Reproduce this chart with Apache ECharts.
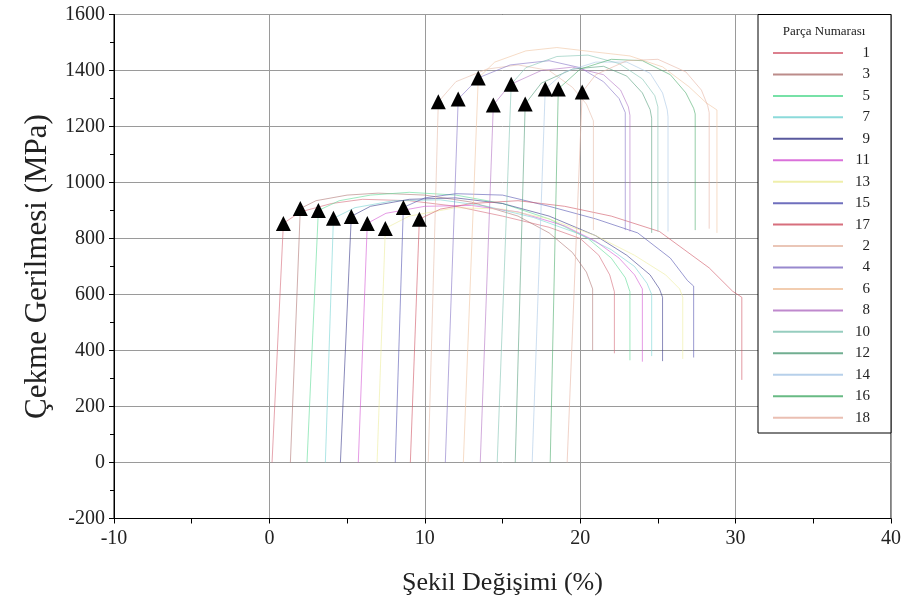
<!DOCTYPE html>
<html>
<head>
<meta charset="utf-8">
<script src="https://cdn.jsdelivr.net/npm/echarts@6/dist/echarts.min.js"></script>
<style>
html,body{margin:0;padding:0;background:#fff;}
#chart{width:907px;height:610px;}
</style>
</head>
<body>
<div id="chart"></div>
<script>
// ---- data ----
var xTicks = [-10, 0, 10, 20, 30, 40];
var yTicks = [-200, 0, 200, 400, 600, 800, 1000, 1200, 1400, 1600];
var legendTitle = 'Parça Numarası';
var pieceNames = ['1','3','5','7','9','11','13','15','17','2','4','6','8','10','12','14','16','18'];

// stress–strain curves [strain %, stress MPa]
var p1  = [[0.17,0],[0.90,854],[2,895],[4,925],[6,940],[9,935],[12,915],[15,880],[18,840],[20,800],[21.2,740],[21.9,670],[22.2,610],[22.2,390]];
var p3  = [[1.35,0],[1.99,907],[3,935],[5,955],[7,962],[10,955],[13,930],[16,880],[18,820],[19.5,750],[20.4,680],[20.8,620],[20.8,400]];
var p5  = [[2.42,0],[3.15,900],[4.5,935],[6.5,955],[9,965],[12,955],[15,925],[18,870],[20.5,800],[22,730],[22.9,660],[23.2,610],[23.2,365]];
var p7  = [[3.6,0],[4.12,872],[5.5,910],[8,935],[11,938],[14,915],[17,875],[20,815],[22,760],[23.5,700],[24.3,640],[24.6,600],[24.6,380]];
var p9  = [[4.57,0],[5.27,879],[6.5,915],[9,940],[12,945],[15,925],[18,880],[21,810],[23,740],[24.5,670],[25.1,620],[25.3,590],[25.3,362]];
var p11 = [[5.72,0],[6.30,854],[7.5,890],[10,915],[13,918],[16,895],[19,845],[21,790],[22.5,730],[23.5,670],[24,620],[24,360]];
var p13 = [[6.93,0],[7.46,836],[9,880],[12,910],[15,905],[18,870],[21,810],[23.5,740],[25.5,670],[26.4,620],[26.6,590],[26.6,370]];
var p15 = [[8.10,0],[8.62,911],[10,945],[12,960],[15,955],[18,915],[21,870],[23.7,820],[25.8,730],[26.9,650],[27.3,630],[27.3,375]];
var p17 = [[9.07,0],[9.65,869],[11,905],[13,925],[16,935],[19,915],[22,880],[25.1,825],[28.3,695],[29.8,612],[30.4,590],[30.4,295]];
var p2  = [[10.22,0],[10.87,1288],[12,1360],[14,1405],[16,1420],[18,1400],[19.5,1340],[20.4,1280],[20.85,1220],[20.85,830]];
var p4  = [[11.32,0],[12.15,1298],[13.5,1375],[15.5,1420],[18,1435],[20,1410],[21.5,1360],[22.5,1300],[22.9,1250],[22.9,830]];
var p6  = [[12.48,0],[13.44,1373],[14.5,1430],[16.5,1470],[18.5,1482],[20.8,1467],[23.2,1452],[25.3,1413],[27,1342],[28.1,1285],[28.8,1259],[28.8,820]];
var p8  = [[13.57,0],[14.41,1277],[15.5,1350],[17.5,1400],[19.5,1412],[21.5,1385],[22.6,1330],[23.1,1270],[23.2,1240],[23.2,825]];
var p10 = [[14.66,0],[15.56,1351],[16.5,1410],[18.5,1450],[20.5,1455],[22.5,1425],[24,1370],[24.8,1310],[25,1270],[25,825]];
var p12 = [[15.82,0],[16.46,1280],[17.5,1355],[19.5,1405],[21.5,1415],[23,1380],[24,1320],[24.5,1260],[24.6,1230],[24.6,820]];
var p14 = [[16.91,0],[17.75,1334],[19,1395],[21,1430],[23,1430],[24.5,1390],[25.3,1320],[25.6,1260],[25.65,1235],[25.65,825]];
var p16 = [[18.07,0],[18.59,1334],[20,1405],[22,1440],[24,1435],[25.8,1385],[26.8,1320],[27.3,1265],[27.4,1245],[27.4,830]];
var p18 = [[19.16,0],[20.13,1323],[21,1385],[23,1435],[25,1440],[26.8,1395],[27.8,1330],[28.2,1275],[28.3,1250],[28.3,835]];

// yield markers (triangles)
var yieldPoints = [[0.90,854],[1.99,907],[3.15,900],[4.12,872],[5.27,879],[6.30,854],[7.46,836],[8.62,911],[9.65,869],
                   [10.87,1288],[12.15,1298],[13.44,1373],[14.41,1277],[15.56,1351],[16.46,1280],[17.75,1334],[18.59,1334],[20.13,1323]];

var curves = [p1,p3,p5,p7,p9,p11,p13,p15,p17,p2,p4,p6,p8,p10,p12,p14,p16,p18];
var colors = ['#d66a7a','#b07876','#5fdc98','#78d4d4','#3c3c8c','#d458d4','#ecec9c','#5656b2','#d05666',
              '#e6bcaa','#8674c6','#f0c4a2','#b474c4','#84c4b4','#58a07e','#aac8e6','#4eae6e','#e6b4a4'];

var FONT = '"Liberation Serif", "DejaVu Serif", serif';

var series = curves.map(function (c, i) {
  return {
    name: pieceNames[i], type: 'line', data: c,
    symbol: 'none', showSymbol: false, smooth: false,
    lineStyle: { color: colors[i], width: 1, opacity: 0.6 },
    itemStyle: { color: colors[i] },
    z: 2, silent: true
  };
});
series.push({
  name: 'akma', type: 'scatter', data: yieldPoints,
  symbol: 'triangle', symbolSize: 15,
  itemStyle: { color: '#000', opacity: 1 }, z: 6, silent: true
});

var chart = echarts.init(document.getElementById('chart'), null, { renderer: 'canvas' });
chart.setOption({
  animation: false,
  backgroundColor: '#fff',
  grid: { left: 114, right: 16, top: 14.5, bottom: 91.5, show: true, borderColor: '#000', borderWidth: 1 },
  xAxis: {
    type: 'value', min: xTicks[0], max: xTicks[xTicks.length - 1], interval: 10,
    name: 'Şekil Değişimi (%)', nameLocation: 'middle', nameGap: 52,
    nameTextStyle: { fontFamily: FONT, fontSize: 26, color: '#222' },
    axisLine: { show: true, onZero: false, lineStyle: { color: '#000', width: 1 } },
    axisTick: { show: true, length: 5, lineStyle: { color: '#000' } },
    minorTick: { show: true, splitNumber: 2, length: 5, lineStyle: { color: '#000' } },
    axisLabel: { fontFamily: FONT, fontSize: 20, color: '#222', margin: 10 },
    splitLine: { show: true, lineStyle: { color: '#9a9a9a', width: 1 } }
  },
  yAxis: {
    type: 'value', min: yTicks[0], max: yTicks[yTicks.length - 1], interval: 200,
    name: 'Çekme Gerilmesi (MPa)', nameLocation: 'middle', nameGap: 61,
    nameTextStyle: { fontFamily: FONT, fontSize: 31, color: '#222' },
    axisLine: { show: true, onZero: false, lineStyle: { color: '#000', width: 1 } },
    axisTick: { show: true, length: 5, lineStyle: { color: '#000' } },
    minorTick: { show: true, splitNumber: 2, length: 4, lineStyle: { color: '#000' } },
    axisLabel: { fontFamily: FONT, fontSize: 20, color: '#222', margin: 9,
      formatter: function (v) { return String(v); } },
    splitLine: { show: true, lineStyle: { color: '#9a9a9a', width: 1 } }
  },
  legend: {
    data: pieceNames, orient: 'vertical', left: 773, top: 45.5,
    itemWidth: 70, itemHeight: 2, itemGap: 6.45, padding: 0,
    icon: 'rect', selectedMode: false, z: 8,
    itemStyle: { opacity: 0.85 },
    formatter: function (n) { return '{n|' + n + '}'; },
    textStyle: { fontFamily: FONT, fontSize: 15, color: '#222',
      rich: { n: { width: 22, align: 'right', fontFamily: FONT, fontSize: 15, color: '#222', lineHeight: 14 } } }
  },
  graphic: [
    { type: 'rect', z: 7, shape: { x: 758, y: 14.5, width: 133, height: 418.5 },
      style: { fill: '#fff', stroke: '#000', lineWidth: 1 } },
    { type: 'text', z: 8, x: 824, y: 32,
      style: { text: legendTitle, fontFamily: FONT, fontSize: 13, fill: '#222', textAlign: 'center', textVerticalAlign: 'middle' } }
  ],
  series: series
});
</script>
</body>
</html>
